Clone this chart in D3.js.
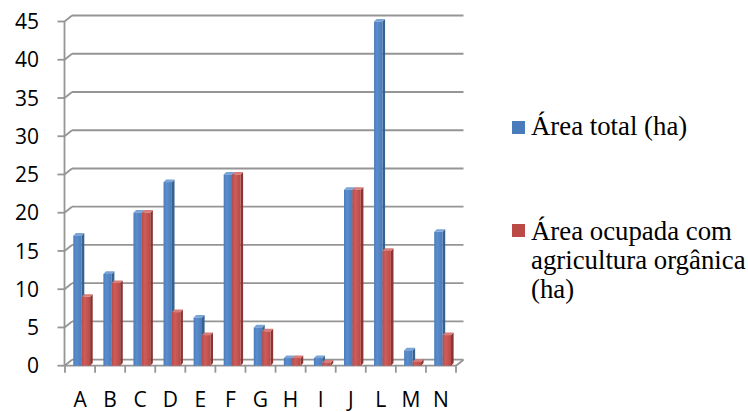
<!DOCTYPE html>
<html>
<head>
<meta charset="utf-8">
<script src="https://cdn.jsdelivr.net/npm/d3@7"></script>
<style>
  html, body { margin: 0; padding: 0; background: #ffffff; }
  svg { display: block; }
</style>
</head>
<body>
<svg id="chart" width="748" height="412"></svg>
<script>
const categories = ["A", "B", "C", "D", "E", "F", "G", "H", "I", "J", "L", "M", "N"];
const areaTotal = [17, 12, 20, 24, 6.3, 25, 5, 1, 1, 23, 45, 2, 17.5];
const areaOrganica = [9, 10.8, 20, 7, 4, 25, 4.5, 1, 0.4, 23, 15, 0.5, 4];
const seriesNames = ["Área total (ha)", "Área ocupada com agricultura orgânica (ha)"];
const legendLines = [["Área total (ha)"], ["Área ocupada com", "agricultura orgânica", "(ha)"]];
const yTicks = [0, 5, 10, 15, 20, 25, 30, 35, 40, 45];

const series = [
  { name: seriesNames[0], values: areaTotal, front: ["#5b8ccc", "#4a7cbb"], side: "#37628f", top: "#7aa3d6" },
  { name: seriesNames[1], values: areaOrganica, front: ["#cc5d5a", "#bb4a47"], side: "#8a3532", top: "#d77c79" }
];

const svg = d3.select("#chart");
const defs = svg.append("defs");
series.forEach((s, i) => {
  const g = defs.append("linearGradient").attr("id", "grad" + i)
    .attr("x1", "0").attr("x2", "1").attr("y1", "0").attr("y2", "0");
  g.append("stop").attr("offset", "0%").attr("stop-color", s.front[1]);
  g.append("stop").attr("offset", "35%").attr("stop-color", s.front[0]);
  g.append("stop").attr("offset", "100%").attr("stop-color", s.front[1]);
});

const x0 = 64.5, x1 = 456;
const depthX = 7.5, depthY = -6;
const y = d3.scaleLinear().domain([0, 45]).range([365.7, 21.5]);
const x = d3.scaleBand().domain(categories).range([x0 + 0.5, x1]).paddingInner(0).paddingOuter(0);
const xs = d3.scaleBand().domain([0, 1]).range([8.3, 25.1]);

const gridColor = "#959595";
const gw = 1.8;

const grid = svg.append("g");
yTicks.forEach(t => {
  const yy = y(t);
  grid.append("line").attr("x1", x0 - 7).attr("x2", x0).attr("y1", yy).attr("y2", yy)
    .attr("stroke", gridColor).attr("stroke-width", gw);
  grid.append("line").attr("x1", x0).attr("y1", yy).attr("x2", x0 + depthX).attr("y2", yy + depthY)
    .attr("stroke", gridColor).attr("stroke-width", gw);
  grid.append("line").attr("x1", x0 + depthX).attr("x2", x1 + depthX).attr("y1", yy + depthY).attr("y2", yy + depthY)
    .attr("stroke", gridColor).attr("stroke-width", gw);
});
grid.append("line").attr("x1", x0).attr("x2", x0).attr("y1", y(45)).attr("y2", y(0))
  .attr("stroke", gridColor).attr("stroke-width", gw);
grid.append("line").attr("x1", x0).attr("x2", x1).attr("y1", y(0)).attr("y2", y(0))
  .attr("stroke", gridColor).attr("stroke-width", gw);
grid.append("line").attr("x1", x1).attr("y1", y(0)).attr("x2", x1 + depthX).attr("y2", y(0) + depthY)
  .attr("stroke", gridColor).attr("stroke-width", gw);
const bounds = categories.map(c => x(c)).concat([x1]);
bounds.forEach(bx => {
  grid.append("line").attr("x1", bx).attr("x2", bx).attr("y1", y(0)).attr("y2", y(0) + 7)
    .attr("stroke", gridColor).attr("stroke-width", gw);
});

const bdx = 2.6, bdy = -2.6;
const bars = svg.append("g");
categories.forEach((c, ci) => {
  series.forEach((s, si) => {
    const v = s.values[ci];
    const bx = x(c) + xs(si);
    const bw = xs.bandwidth();
    const yt = y(v), yb = y(0);
    bars.append("path")
      .attr("d", `M${bx + bw},${yb} L${bx + bw + bdx},${yb + bdy} L${bx + bw + bdx},${yt + bdy} L${bx + bw},${yt} Z`)
      .attr("fill", s.side);
    bars.append("path")
      .attr("d", `M${bx},${yt} L${bx + bdx},${yt + bdy} L${bx + bw + bdx},${yt + bdy} L${bx + bw},${yt} Z`)
      .attr("fill", s.top);
    bars.append("rect").attr("x", bx).attr("y", yt).attr("width", bw).attr("height", Math.max(0, yb - yt))
      .attr("fill", `url(#grad${si})`);
  });
});

const yl = svg.append("g").attr("font-family", "'Open Sans', 'Noto Sans', sans-serif").attr("font-size", 21).attr("fill", "#000");
yTicks.forEach(t => {
  yl.append("text").attr("x", 39).attr("y", y(t)).attr("dy", "0.36em").attr("text-anchor", "end").text(t);
});
const xl = svg.append("g").attr("font-family", "'Open Sans', 'Noto Sans', sans-serif").attr("font-size", 21).attr("fill", "#000");
categories.forEach(c => {
  xl.append("text").attr("x", x(c) + x.bandwidth() / 2).attr("y", 407).attr("text-anchor", "middle").text(c);
});

const legend = svg.append("g").attr("font-family", "'Liberation Serif', 'Times New Roman', serif").attr("font-size", 26.8).attr("fill", "#000");
const legendPos = [{ sq: 121, base: 135 }, { sq: 224, base: 240 }];
series.forEach((s, i) => {
  legend.append("rect").attr("x", 512).attr("y", legendPos[i].sq).attr("width", 13).attr("height", 13).attr("fill", s.front[1]);
  legendLines[i].forEach((ln, li) => {
    legend.append("text").attr("x", 531).attr("y", legendPos[i].base + li * 29).text(ln);
  });
});
</script>
</body>
</html>
